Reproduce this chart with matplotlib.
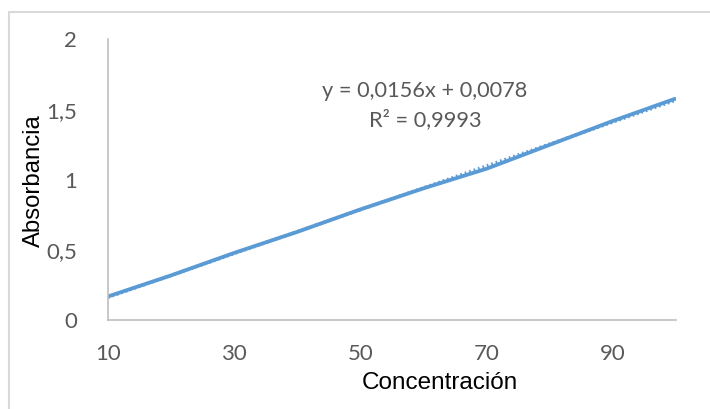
import numpy as np
import matplotlib
matplotlib.use("Agg")
import matplotlib.pyplot as plt
from matplotlib.patches import Rectangle

# Calibration data
concentracion = [10, 20, 30, 40, 50, 60, 70, 80, 90, 100]
absorbancia = [0.17, 0.32, 0.48, 0.63, 0.79, 0.94, 1.08, 1.25, 1.42, 1.58]

# Linear trendline reported on the chart
pendiente = 0.0156
intercepto = 0.0078
r2 = 0.9993

x_ticks = [10, 30, 50, 70, 90]
y_ticks = [0, 0.5, 1, 1.5, 2]
y_tick_labels = ["0", "0,5", "1", "1,5", "2"]

azul = "#5B9BD5"
gris = "#595959"
tick_font = ["Lato", "DejaVu Sans"]
label_font = ["Liberation Sans", "DejaVu Sans"]

fig = plt.figure(figsize=(7.10, 4.09), dpi=100)
ax = fig.add_axes([0.1518, 0.2166, 0.8004, 0.6870])

# trendline first, data line on top
xt = np.array([concentracion[0], concentracion[-1]])
ax.plot(xt, pendiente * xt + intercepto, color=azul, lw=2.4,
        linestyle=(0, (0.5, 0.9)), dash_capstyle="butt")
ax.plot(concentracion, absorbancia, color=azul, lw=2.75, solid_capstyle="butt")

ax.set_xlim(10, 100)
ax.set_ylim(0, 2)
ax.set_xticks(x_ticks)
ax.set_yticks(y_ticks)
ax.set_yticklabels(y_tick_labels)
ax.tick_params(length=0, colors=gris, labelsize=16)
ax.tick_params(axis="x", pad=17)
ax.tick_params(axis="y", pad=22)
for lab in ax.get_xticklabels() + ax.get_yticklabels():
    lab.set_family(tick_font)

for s in ["top", "right"]:
    ax.spines[s].set_visible(False)
for s in ["left", "bottom"]:
    ax.spines[s].set_color("#BFBFBF")
    ax.spines[s].set_linewidth(1.2)

eq = "y = {:.4f}x + {:.4f}".format(pendiente, intercepto).replace(".", ",")
r2_txt = "R² = {:.4f}".format(r2).replace(".", ",")
fig.text(425 / 710, 1 - 91 / 409, eq, ha="center", va="center",
         fontsize=15.7, color=gris, family=tick_font)
fig.text(425 / 710, 1 - 120 / 409, r2_txt, ha="center", va="center",
         fontsize=15.7, color=gris, family=tick_font)

fig.text(440 / 710, 1 - 383 / 409, "Concentración", ha="center", va="center",
         fontsize=17.5, color="black", family=label_font)
fig.text(34 / 710, 1 - 181 / 409, "Absorbancia", ha="center", va="center",
         rotation=90, fontsize=17.2, color="black", family=label_font)

# chart area outline
fig.patches.append(Rectangle((9 / 710, -0.05), 1.2, 1 - 12 / 409 + 0.05,
                             transform=fig.transFigure, fill=False,
                             edgecolor="#D9D9D9", lw=1.5))

fig.savefig("out.png", dpi=100)
